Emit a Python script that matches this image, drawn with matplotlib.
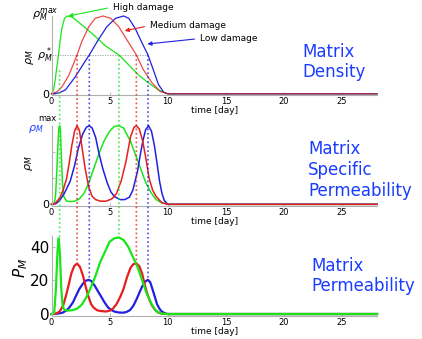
import matplotlib
matplotlib.use('Agg')
import matplotlib.pyplot as plt
from matplotlib.patches import ConnectionPatch

# colours
green = '#19e619'
red = '#e61e1e'
blue = '#2020e0'
txt_blue = '#1a3cff'
axis_gray = '#b0b0b0'

# --- matrix density (normalised to rho_max) ---
t_dens_high = [0, 0.17, 0.32, 0.46, 0.6, 0.75, 0.89, 1.12, 1.35, 1.7, 2.0, 2.9, 3.75, 4.6, 5.8, 6.65, 7.5, 8.35, 9.2, 10, 28]
dens_high = [0, 0.05, 0.18, 0.35, 0.5, 0.69, 0.84, 0.97, 1.0, 0.99, 0.96, 0.85, 0.74, 0.62, 0.5, 0.37, 0.24, 0.14, 0.05, 0, 0]
t_dens_med = [0, 0.5, 0.9, 1.5, 2.2, 2.6, 3.2, 3.75, 4.45, 5.1, 5.8, 6.5, 7.3, 7.9, 8.65, 9.35, 10, 28]
dens_med = [0, 0.03, 0.09, 0.24, 0.5, 0.67, 0.86, 0.97, 1.0, 0.97, 0.86, 0.69, 0.5, 0.31, 0.14, 0.03, 0, 0]
t_dens_low = [0, 0.6, 1.2, 2.05, 2.6, 3.25, 4.05, 4.75, 5.5, 6.2, 6.65, 7.2, 7.8, 8.3, 8.8, 9.2, 9.65, 10, 28]
dens_low = [0, 0.01, 0.05, 0.22, 0.35, 0.5, 0.70, 0.86, 0.97, 1.0, 0.97, 0.84, 0.65, 0.5, 0.29, 0.12, 0.02, 0, 0]
rho_star = 0.5
rho_star_end = 8.3

# --- matrix specific permeability (normalised) ---
t_spec_high = [0, 0.25, 0.35, 0.45, 0.55, 0.63, 0.7, 0.77, 0.85, 0.95, 1.05, 1.3, 1.6, 2.0, 2.4, 2.8, 3.2, 3.6, 4.1, 4.5,
               5.0, 5.4, 5.8, 6.2, 6.8, 7.3, 7.7, 8.1, 8.55, 9.0, 9.4, 10, 28]
spec_high = [0, 0.02, 0.12, 0.4, 0.75, 0.97, 1.0, 0.93, 0.6, 0.25, 0.1, 0.04, 0.035, 0.04, 0.07, 0.14, 0.27, 0.44, 0.65, 0.8,
             0.93, 0.99, 1.0, 0.97, 0.8, 0.6, 0.44, 0.28, 0.15, 0.06, 0.025, 0, 0]
t_spec_med = [0, 0.3, 0.7, 1.0, 1.3, 1.55, 1.75, 2.0, 2.2, 2.4, 2.6, 2.9, 3.2, 3.5, 3.8, 4.2, 4.7, 5.2, 5.6, 6.0,
              6.4, 6.8, 7.1, 7.3, 7.55, 7.85, 8.1, 8.4, 8.7, 9.0, 9.5, 10, 28]
spec_med = [0, 0.01, 0.08, 0.18, 0.33, 0.55, 0.75, 0.94, 1.0, 0.94, 0.75, 0.45, 0.22, 0.1, 0.06, 0.04, 0.04, 0.07, 0.14, 0.3,
            0.54, 0.86, 0.98, 1.0, 0.96, 0.8, 0.6, 0.33, 0.18, 0.1, 0.02, 0, 0]
t_spec_low = [0, 0.4, 0.7, 1.1, 1.6, 2.0, 2.3, 2.7, 3.0, 3.25, 3.5, 3.8, 4.05, 4.4, 4.8, 5.1, 5.4, 5.9, 6.3, 6.7,
              7.0, 7.4, 7.6, 7.85, 8.1, 8.35, 8.6, 8.85, 9.05, 9.3, 9.5, 9.7, 10, 28]
spec_low = [0, 0.01, 0.05, 0.14, 0.29, 0.5, 0.71, 0.9, 0.98, 1.0, 0.97, 0.85, 0.67, 0.46, 0.27, 0.16, 0.1, 0.06, 0.06, 0.09,
            0.18, 0.42, 0.6, 0.8, 0.95, 1.0, 0.93, 0.75, 0.55, 0.29, 0.14, 0.05, 0, 0]

# --- matrix permeability ---
t_perm_high = [0, 0.23, 0.38, 0.52, 0.62, 0.72, 0.84, 0.96, 1.1, 1.4, 1.8, 2.2, 2.6, 3.0, 3.4, 3.8, 4.2, 4.6, 5.0, 5.4,
               5.8, 6.2, 6.6, 7.0, 7.4, 7.8, 8.2, 8.6, 9.0, 9.4, 9.8, 10, 28]
perm_high = [0, 0.5, 15, 38, 45, 36, 15, 5, 2.5, 2, 2.3, 3.2, 5.5, 10, 16, 23, 31, 37, 43, 45,
             45.5, 44, 40, 34, 28, 20, 12, 6, 1.8, 0.4, 0, 0, 0]
t_perm_med = [0, 0.4, 0.7, 1.0, 1.25, 1.5, 1.7, 1.95, 2.2, 2.45, 2.7, 2.95, 3.15, 3.4, 3.6, 3.9, 4.2, 4.7, 5.0, 5.3,
              5.6, 5.9, 6.2, 6.5, 6.8, 7.05, 7.3, 7.55, 7.8, 8.0, 8.2, 8.45, 8.65, 8.9, 9.2, 9.6, 10, 28]
perm_med = [0, 0.3, 1.5, 5, 11, 18, 24, 28.5, 30, 28, 23, 16, 11, 6, 4, 2.3, 1.8, 1.5, 2, 3.3,
            6, 10, 15, 22, 27.5, 29.7, 30, 28.5, 24, 18, 13, 8, 5, 2.5, 0.8, 0.2, 0, 0]
t_perm_low = [0, 0.5, 0.96, 1.25, 1.54, 1.85, 2.12, 2.4, 2.7, 2.95, 3.2, 3.45, 3.7, 4.0, 4.3, 4.6, 4.87, 5.15, 5.45, 5.8,
              6.17, 6.45, 6.75, 7.05, 7.33, 7.55, 7.77, 8.05, 8.3, 8.5, 8.72, 8.9, 9.07, 9.3, 9.5, 9.8, 10, 28]
perm_low = [0, 0.2, 0.8, 2, 3.9, 7, 11, 15, 18, 19.8, 20.3, 19.5, 17, 13.5, 10, 6.5, 3.9, 2.3, 1.4, 0.9,
            0.8, 1.2, 2.3, 5, 9, 12.5, 16, 19.3, 20.3, 18.8, 14, 10, 6, 3, 1.4, 0.3, 0, 0]

# dotted guide lines: time, start on density panel, end at permeability peak
mark_t = [0.7, 5.8, 2.2, 7.3, 3.25, 8.3]
mark_start = [0.3, 0.5, 0.5, 0.5, 0.5, 0.5]
mark_peak = [45, 45.5, 30, 30, 20.3, 20.3]
mark_col = [green, green, red, red, blue, blue]

xticks = [0, 5, 10, 15, 20, 25]

W, H = 422, 339
def px(x, y):
    return (x / W, 1 - y / H)

fig = plt.figure(figsize=(4.22, 3.39), dpi=100)
left, width = 51.5 / W, 325.5 / W
ax1 = fig.add_axes([left, 0.7198, width, 0.233])
ax2 = fig.add_axes([left, 0.3938, width, 0.2354])
ax3 = fig.add_axes([left, 0.0687, width, 0.2357])

for ax in (ax1, ax2, ax3):
    for s in ('top', 'right'):
        ax.spines[s].set_visible(False)
    for s in ('left', 'bottom'):
        ax.spines[s].set_color(axis_gray)
        ax.spines[s].set_linewidth(0.8)
    ax.set_xlim(0, 28)
    ax.set_xticks(xticks)
    ax.tick_params(direction='in', length=2, color=axis_gray, width=0.6, pad=1.5)
    ax.patch.set_alpha(0)

# panel 1
ax1.plot(t_dens_high, dens_high, color=green, lw=0.9, clip_on=False)
ax1.plot(t_dens_low, dens_low, color=blue, lw=0.9, clip_on=False)
ax1.plot(t_dens_med, dens_med, color=red, lw=0.9, clip_on=False, alpha=0.8)
ax1.plot([0, rho_star_end], [rho_star, rho_star], color='#999999', lw=0.6, ls=(0, (1.5, 1.5)))
ax1.set_ylim(-0.015, 1.0)
ax1.set_yticks([0])
ax1.set_yticklabels(['0'], fontsize=8)
ax1.set_xticklabels([str(v) for v in xticks], fontsize=6)
ax1.set_xlabel('time [day]', fontsize=6.5, labelpad=0)

# panel 2
ax2.plot(t_spec_high, spec_high, color=green, lw=1.1, clip_on=False)
ax2.plot(t_spec_low, spec_low, color=blue, lw=1.1, clip_on=False)
ax2.plot(t_spec_med, spec_med, color=red, lw=1.1, clip_on=False)
ax2.set_ylim(-0.015, 1.0)
ax2.set_yticks([0, 1 / 3, 2 / 3])
ax2.set_yticklabels(['0', '', ''], fontsize=8)
ax2.set_xticklabels([str(v) for v in xticks], fontsize=6)
ax2.set_xlabel('time [day]', fontsize=6.5, labelpad=0)

# panel 3
ax3.plot(t_perm_low, perm_low, color=blue, lw=1.6, clip_on=False)
ax3.plot(t_perm_med, perm_med, color=red, lw=1.6, clip_on=False)
ax3.plot(t_perm_high, perm_high, color=green, lw=1.6, clip_on=False)
ax3.set_ylim(-1, 46.5)
ax3.set_yticks([0, 20, 40])
ax3.set_yticklabels(['0', '20', '40'], fontsize=11)
ax3.set_xticklabels([str(v) for v in xticks], fontsize=6)
ax3.set_xlabel('time [day]', fontsize=6.5, labelpad=0)

# dotted guides running through all three panels
for t, y0, y1, c in zip(mark_t, mark_start, mark_peak, mark_col):
    con = ConnectionPatch(xyA=(t, y0), coordsA='data', axesA=ax1,
                          xyB=(t, y1), coordsB='data', axesB=ax3,
                          color=c, lw=1.2, linestyle=(0, (1, 1.6)), alpha=0.8,
                          capstyle='butt')
    fig.add_artist(con)

# axis labels drawn as text
fig.text(*px(30, 57), r'$\rho_M$', rotation=90, fontsize=8, ha='center', va='center')
fig.text(*px(45, 15), r'$\rho_M^{max}$', fontsize=8, ha='center', va='center')
fig.text(*px(45, 55), r'$\rho_M^*$', fontsize=8, ha='center', va='center')
fig.text(*px(29, 163), r'$\rho_M$', rotation=90, fontsize=8, ha='center', va='center')
fig.text(*px(36, 129), r'$\rho_M$', fontsize=8, color=txt_blue, ha='center', va='center')
fig.text(*px(47, 119), 'max', fontsize=6, ha='center', va='center')
fig.text(*px(21, 268), r'$P_M$', rotation=90, fontsize=11, ha='center', va='center')

# legend-style annotations
ax1.annotate('High damage', xy=(1.45, 1.0), xycoords='data', xytext=px(113, 7), textcoords='figure fraction',
             ha='left', va='center', fontsize=6.5,
             arrowprops=dict(arrowstyle='-|>', color=green, lw=0.8, mutation_scale=6, shrinkA=2, shrinkB=0, relpos=(0, 0.5)))
ax1.annotate('Medium damage', xy=(6.3, 0.81), xycoords='data', xytext=px(150, 25.5), textcoords='figure fraction',
             ha='left', va='center', fontsize=6.5,
             arrowprops=dict(arrowstyle='-|>', color=red, lw=0.8, mutation_scale=6, shrinkA=2, shrinkB=0, relpos=(0, 0.5)))
ax1.annotate('Low damage', xy=(8.25, 0.64), xycoords='data', xytext=px(200, 38.5), textcoords='figure fraction',
             ha='left', va='center', fontsize=6.5,
             arrowprops=dict(arrowstyle='-|>', color=blue, lw=0.8, mutation_scale=6, shrinkA=2, shrinkB=0, relpos=(0, 0.5)))

# panel titles
fig.text(*px(302, 62), 'Matrix\nDensity', color=txt_blue, fontsize=12, ha='left', va='center', linespacing=1.2)
fig.text(*px(308, 170), 'Matrix\nSpecific\nPermeability', color=txt_blue, fontsize=12, ha='left', va='center', linespacing=1.2)
fig.text(*px(311, 276), 'Matrix\nPermeability', color=txt_blue, fontsize=12, ha='left', va='center', linespacing=1.2)

fig.savefig('out.png', dpi=100)
